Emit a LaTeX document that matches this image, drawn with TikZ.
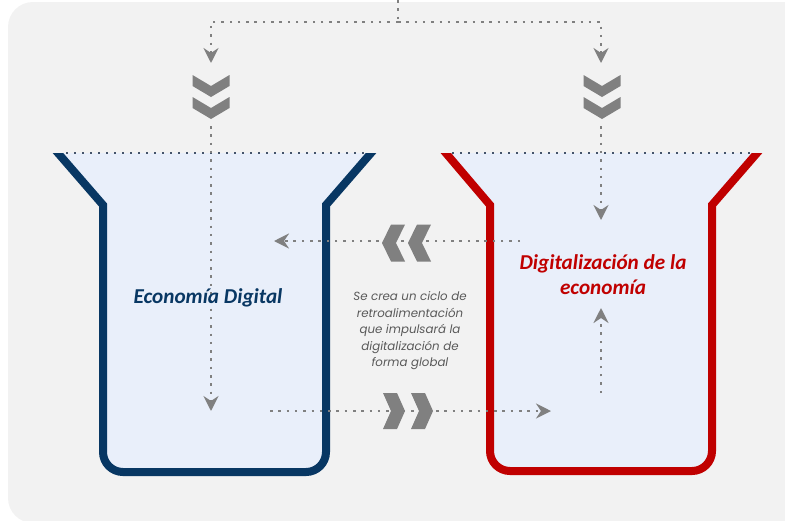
\documentclass[tikz,border=0pt]{standalone}
\usepackage{fontspec}
\setmainfont{Carlito}
\newfontfamily\notefont{Poppins}
\usepackage{tikz}
\usetikzlibrary{arrows.meta}
\definecolor{bggray}{RGB}{242,242,242}
\definecolor{fillblue}{RGB}{233,239,250}
\definecolor{navy}{RGB}{8,55,99}
\definecolor{darkred}{RGB}{192,0,0}
\definecolor{flowgray}{RGB}{128,128,128}
\definecolor{notegray}{RGB}{89,89,89}
\definecolor{rimgray}{RGB}{68,84,106}
\tikzset{
  flow/.style={flowgray,line width=2.5pt,dash pattern=on 2.5pt off 5.8pt},
  flowtip/.style={flow,-{Stealth[length=15pt,width=15pt,inset=5pt]}},
  rim/.style={rimgray,line width=2pt,dash pattern=on 2pt off 6pt},
  vessel/.style={line width=8pt,fill=fillblue},
  chev/.style={fill=flowgray}
}
\def\ChevDown#1#2{\fill[chev] (#1-18.5,#2) -- (#1,#2+11) -- (#1+18.5,#2) -- (#1+18.5,#2+11) -- (#1,#2+22) -- (#1-18.5,#2+11) -- cycle;}
\def\ChevLeft#1#2{\fill[chev] (#1,#2) -- (#1+9,#2-18.5) -- (#1+23,#2-18.5) -- (#1+14,#2) -- (#1+23,#2+18.5) -- (#1+9,#2+18.5) -- cycle;}
\def\ChevRight#1#2{\fill[chev] (#1,#2) -- (#1-8,#2-18) -- (#1-22,#2-18) -- (#1-14,#2) -- (#1-22,#2+18) -- (#1-8,#2+18) -- cycle;}
\begin{document}
\begin{tikzpicture}[x=1pt,y=-1pt]
\useasboundingbox (0,0) rectangle (785,520);
\clip (0,0) rectangle (785,520);
\fill[bggray,rounded corners=25pt] (8,2) rectangle (830,523);
% vessels
\begin{scope}
  \clip (0,153) rectangle (785,520);
  \draw[vessel,draw=navy] (51,145) -- (103,205) [rounded corners=20pt] -- (103,472) -- (326,472) [sharp corners] -- (326,205) -- (378,145);
  \draw[vessel,draw=darkred] (439,145) -- (490,205) [rounded corners=20pt] -- (490,471) -- (712,471) [sharp corners] -- (712,205) -- (764,145);
\end{scope}
\draw[rim] (66,153) -- (366,153);
\draw[rim] (452,153) -- (752,153);
% feed from the top
\coordinate (src) at (398,0);
\coordinate (split) at (398,22);
\coordinate (lefttop) at (211,22);
\coordinate (righttop) at (601,22);
\coordinate (leftin) at (211,63);
\coordinate (rightin) at (601,63);
\draw[flow] (src) -- (split);
\draw[flowtip] (split) -- (lefttop) -- (leftin);
\draw[flowtip] (split) -- (righttop) -- (rightin);
\ChevDown{211}{75} \ChevDown{211}{97}
\ChevDown{602}{75} \ChevDown{602}{97}
% inner flows
\coordinate (leftdown) at (211,126);
\coordinate (leftbot) at (211,411);
\coordinate (rightdown) at (601,126);
\coordinate (rightmid) at (601,220);
\coordinate (backfrom) at (520,241);
\coordinate (backto) at (274,241);
\coordinate (fwdfrom) at (270,411);
\coordinate (fwdto) at (551,411);
\coordinate (upfrom) at (601,393);
\coordinate (upto) at (601,308);
\draw[flowtip] (leftdown) -- (leftbot);
\draw[flowtip] (rightdown) -- (rightmid);
\draw[flowtip] (backfrom) -- (backto);
\draw[flowtip] (fwdfrom) -- (fwdto);
\draw[flowtip] (upfrom) -- (upto);
\ChevLeft{382}{243} \ChevLeft{408}{243}
\ChevRight{405}{411} \ChevRight{433}{411}
% labels
\node[navy,font=\fontsize{21.2}{25}\selectfont\bfseries\itshape] (econ) at (208,298) {Economía Digital};
\node[darkred,font=\fontsize{21.2}{25}\selectfont\bfseries\itshape,align=center] (digit) at (603,275) {Digitalización de la\\economía};
\node[notegray,font=\fontsize{11.8}{16.5}\selectfont\notefont\itshape,align=center] (note) at (410,331) {Se crea un ciclo de\\retroalimentación\\que impulsará la\\digitalización de\\forma global};
\end{tikzpicture}
\end{document}
